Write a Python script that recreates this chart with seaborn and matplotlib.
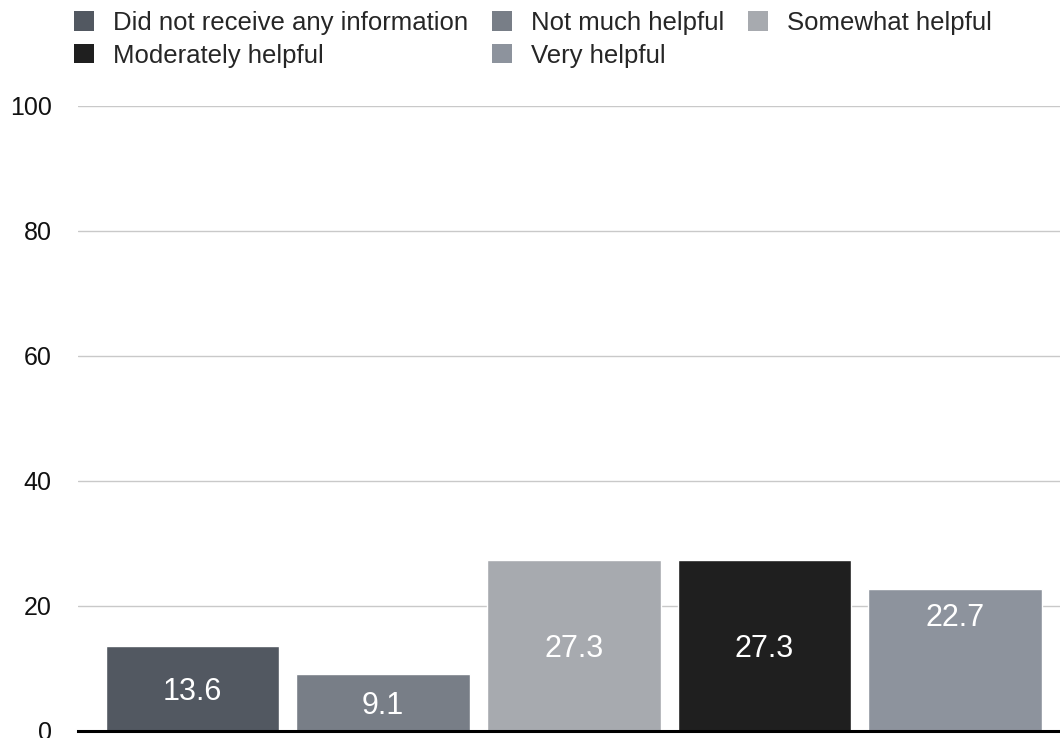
import matplotlib
matplotlib.use("Agg")
import matplotlib.pyplot as plt
import seaborn as sns
import pandas as pd
from matplotlib.patches import Patch

categories = [
    "Did not receive any information",
    "Not much helpful",
    "Somewhat helpful",
    "Moderately helpful",
    "Very helpful",
]
values = [13.6, 9.1, 27.3, 27.3, 22.7]
colors = ["#525861", "#787e87", "#a7aaaf", "#1f1f1f", "#8d939d"]
y_ticks = [0, 20, 40, 60, 80, 100]

sns.set_theme(style="white")
plt.rcParams["font.family"] = ["Liberation Sans", "DejaVu Sans"]

df = pd.DataFrame({"category": categories, "value": values})

fig = plt.figure(figsize=(10.6, 7.38), dpi=100)
ax = fig.add_axes([0.0736, 0.0095, 0.9264, 0.8469])

sns.barplot(data=df, x="category", y="value", hue="category",
            palette=colors, order=categories, hue_order=categories,
            dodge=False, width=0.91, saturation=1, legend=False, ax=ax)

ax.set_ylim(0, 100)
ax.set_xlim(-0.6, 4.55)
ax.set_yticks(y_ticks)
ax.set_yticklabels([str(t) for t in y_ticks], fontsize=18, color="#111111")
ax.tick_params(axis="y", length=0, pad=19)
ax.set_xticks([])
ax.set_xlabel("")
ax.set_ylabel("")
ax.yaxis.grid(True, color="#c9c9c9", linewidth=1)
ax.set_axisbelow(True)
for s in ["top", "right", "left"]:
    ax.spines[s].set_visible(False)
ax.spines["bottom"].set_color("#000000")
ax.spines["bottom"].set_linewidth(2.2)

# value labels inside the bars
for i, (cat, v) in enumerate(zip(categories, values)):
    y = v / 2 - 0.5 if i < len(values) - 1 else v - 4.6
    ax.text(i, y, f"{v:.1f}", ha="center", va="center",
            fontsize=22, color="white")

# legend laid out row by row (3 columns)
handles = [Patch(facecolor=c, edgecolor="none") for c in colors]
order = [0, 3, 1, 4, 2]
leg = fig.legend([handles[k] for k in order], [categories[k] for k in order],
                 ncol=3, loc="upper left", bbox_to_anchor=(0.0698, 0.985),
                 frameon=False, fontsize=18.5, handlelength=0.78,
                 handleheight=0.78, handletextpad=0.72, columnspacing=0.95,
                 labelspacing=0.33, borderaxespad=0, borderpad=0)

fig.savefig("out.png", dpi=100)
